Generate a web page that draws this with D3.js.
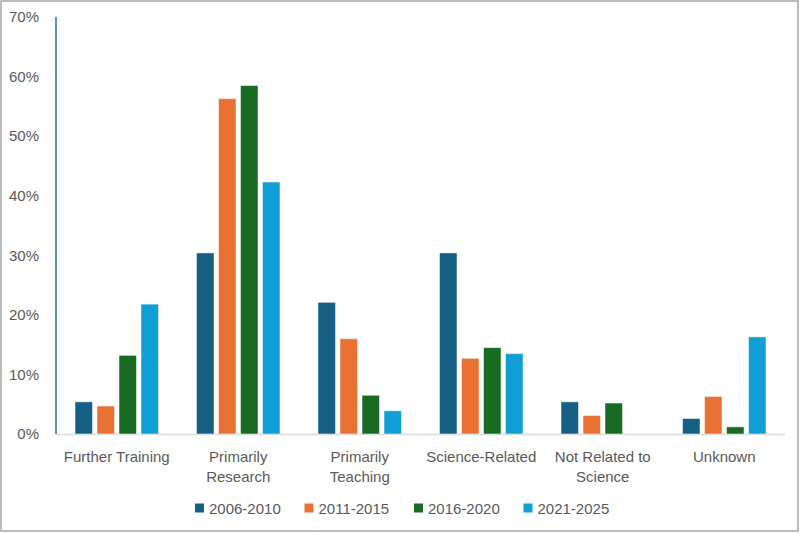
<!DOCTYPE html>
<html>
<head>
<meta charset="utf-8">
<script src="https://cdn.jsdelivr.net/npm/d3@7"></script>
<style>
  html, body { margin: 0; padding: 0; background: #fff; }
  svg { display: block; }
  text { font-family: "Liberation Sans", Arial, sans-serif; fill: #595959; }
</style>
</head>
<body>
<svg id="chart" width="800" height="534"></svg>
<script>
const categories = ["Further Training", "Primarily Research", "Primarily Teaching", "Science-Related", "Not Related to Science", "Unknown"];
const categoryLines = [["Further Training"], ["Primarily", "Research"], ["Primarily", "Teaching"], ["Science-Related"], ["Not Related to", "Science"], ["Unknown"]];
const seriesNames = ["2006-2010", "2011-2015", "2016-2020", "2021-2025"];
const seriesColors = ["#156082", "#E97132", "#196B24", "#0F9ED5"];
const values2006_2010 = [0.054, 0.304, 0.221, 0.304, 0.054, 0.026];
const values2011_2015 = [0.047, 0.563, 0.160, 0.127, 0.031, 0.063];
const values2016_2020 = [0.132, 0.585, 0.065, 0.145, 0.052, 0.012];
const values2021_2025 = [0.218, 0.423, 0.039, 0.135, 0.000, 0.163];
const yTicks = [0, 0.1, 0.2, 0.3, 0.4, 0.5, 0.6, 0.7];

const seriesValues = [values2006_2010, values2011_2015, values2016_2020, values2021_2025];

const svg = d3.select("#chart");
const plotLeft = 56, plotRight = 785, plotTop = 17, plotBottom = 434;

// outer border
svg.append("rect").attr("x", 1).attr("y", 1).attr("width", 797).attr("height", 530)
  .attr("fill", "#fff").attr("stroke", "#a6a6a6").attr("stroke-width", 1.5);

const x0 = d3.scaleBand().domain(categories).range([plotLeft, plotRight]).paddingInner(0).paddingOuter(0);
const groupPad = 19;
const x1 = d3.scaleBand().domain(seriesNames).range([groupPad, x0.bandwidth() - groupPad]).paddingInner(0.205).paddingOuter(0);
const y = d3.scaleLinear().domain([0, 0.7]).range([plotBottom, plotTop]);

// y tick labels
const yAxis = d3.axisLeft(y).tickValues(yTicks).tickFormat(d3.format(".0%")).tickSize(0).tickPadding(17);
const gy = svg.append("g").attr("transform", `translate(${plotLeft},0)`).call(yAxis);
gy.select(".domain").remove();
gy.selectAll("text").style("font-size", "15px").style("fill", "#595959")
  .style("font-family", "'Liberation Sans', Arial, sans-serif");

// baseline
svg.append("line").attr("x1", plotLeft).attr("x2", plotRight).attr("y1", y(0) + 0.5).attr("y2", y(0) + 0.5)
  .attr("stroke", "#d9d9d9").attr("stroke-width", 1.5);

// bars
const groups = svg.append("g").selectAll("g").data(categories).join("g")
  .attr("transform", d => `translate(${x0(d)},0)`);
groups.selectAll("rect")
  .data((c, ci) => seriesNames.map((s, si) => ({ s, si, v: seriesValues[si][ci] })))
  .join("rect")
  .filter(d => d.v > 0)
  .attr("x", d => x1(d.s))
  .attr("width", x1.bandwidth())
  .attr("y", d => y(d.v))
  .attr("height", d => y(0) - y(d.v))
  .attr("fill", d => seriesColors[d.si])
  .attr("stroke", "#ffffff").attr("stroke-opacity", 0.5).attr("stroke-width", 1);

// y axis line
svg.append("line").attr("x1", plotLeft).attr("x2", plotLeft).attr("y1", plotTop).attr("y2", plotBottom)
  .attr("stroke", "#5b93b0").attr("stroke-width", 2);

// category labels
const lab = svg.append("g").selectAll("text").data(categories).join("text")
  .attr("text-anchor", "middle")
  .attr("x", d => x0(d) + x0.bandwidth() / 2)
  .attr("y", 462)
  .style("font-size", "15px");
lab.selectAll("tspan").data((d, i) => categoryLines[i]).join("tspan")
  .attr("x", function() { return this.parentNode.getAttribute("x"); })
  .attr("dy", (d, i) => i === 0 ? 0 : 20)
  .text(d => d);

// legend
const legendX = d3.scaleBand().domain(seriesNames).range([195, 633]);
const lg = svg.append("g").selectAll("g").data(seriesNames).join("g")
  .attr("transform", d => `translate(${legendX(d)},0)`);
lg.append("rect").attr("x", 0).attr("y", 503.5).attr("width", 9).attr("height", 9)
  .attr("fill", (d, i) => seriesColors[i]);
lg.append("text").attr("x", 14).attr("y", 513.5).style("font-size", "15px").text(d => d);
</script>
</body>
</html>
